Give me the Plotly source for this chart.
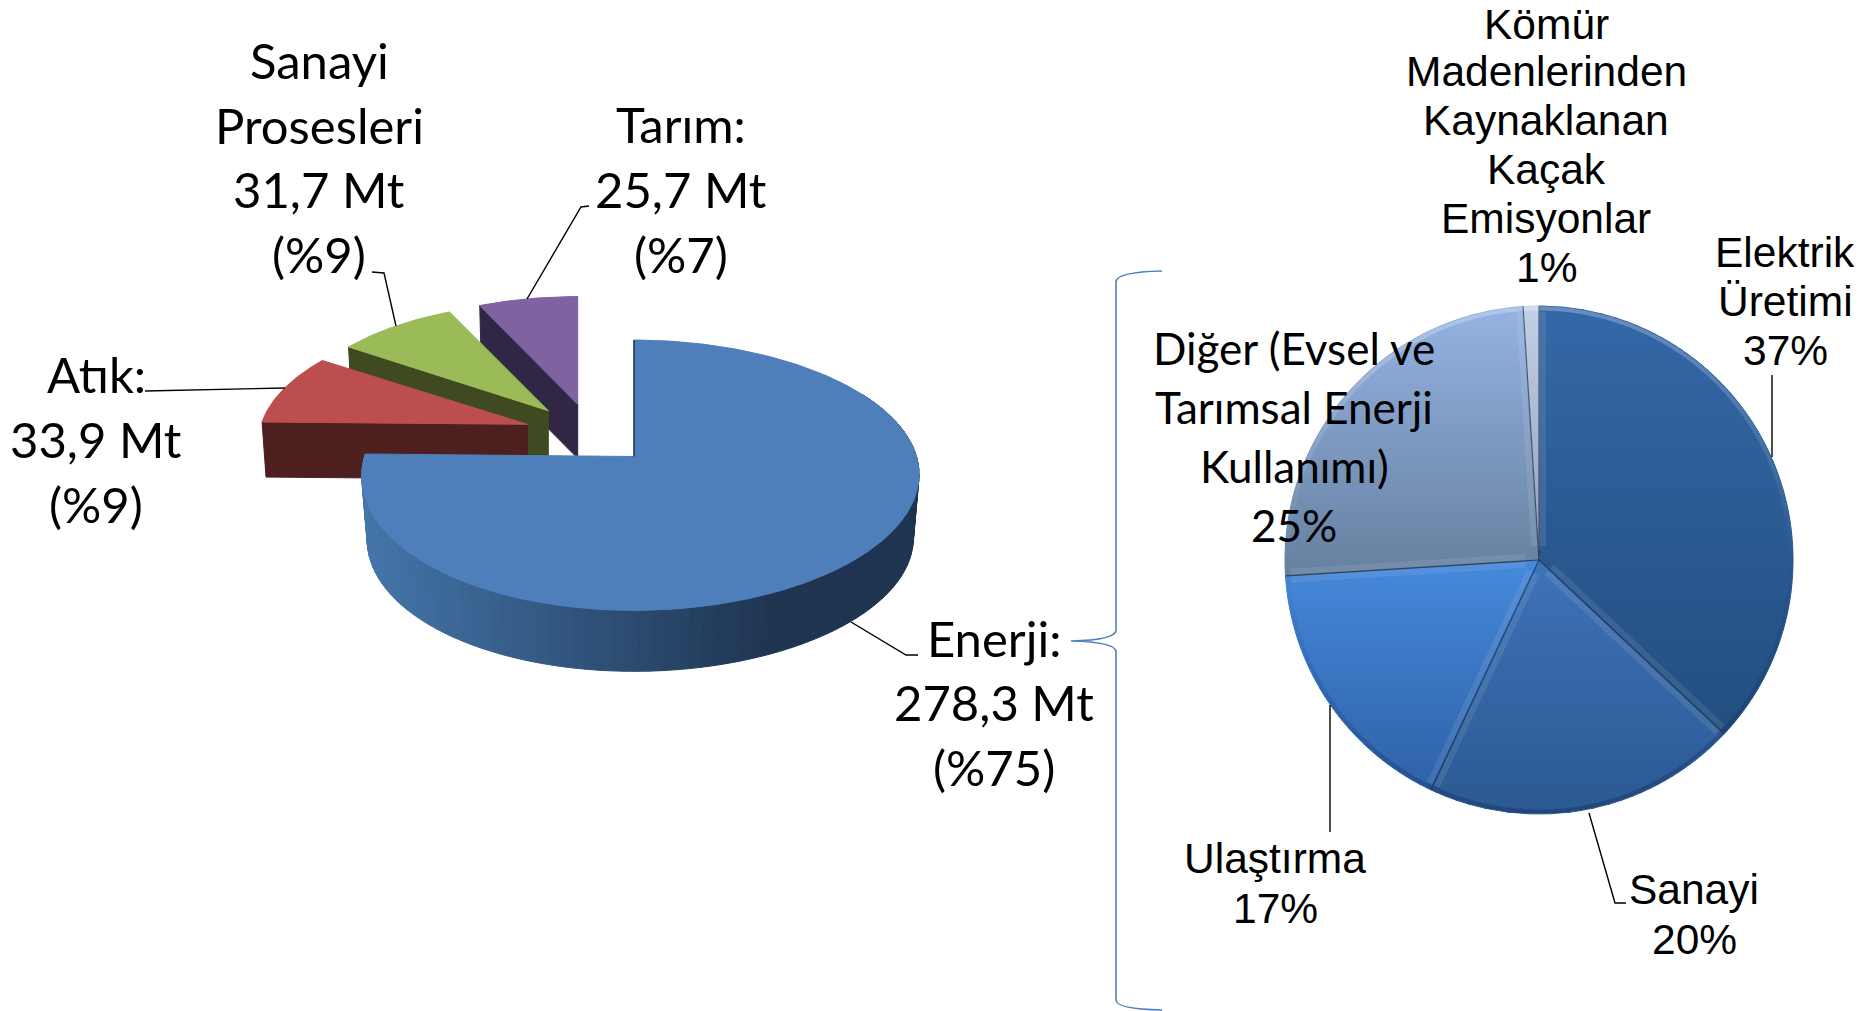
import math
import plotly.graph_objects as go

# ---------- data ----------
sector_names = ["Enerji", "Atık", "Sanayi Prosesleri", "Tarım"]
sector_mt = [278.3, 33.9, 31.7, 25.7]
energy_names = ["Elektrik Üretimi", "Sanayi", "Ulaştırma", "Diğer", "Kömür Kaçak"]
energy_share = [37, 20, 17, 25, 1]

# ---------- styles / layout constants ----------
sector_top = ["#4E7FBB", "#BC4F4D", "#9BBB59", "#7F63A1"]
sector_cut = ["#1F3552", "#4E1F1F", "#3F4A20", "#312644"]
sector_apex = [(634, 456.5), (527.3, 424.3), (548.3, 410.7), (577.7, 404.3)]
sector_scale = [(1.0, 1.0), (0.987, 0.925), (0.962, 0.925), (0.955, 0.925)]
sector_depth = [64, 55, 55, 54]
energy_top = ["#3468A7", "#3F73B8", "#4689DB", "#95B3E3", "#C4D0E6"]
energy_bot = ["#234E80", "#2B5992", "#2F62A8", "#66809F", "#8E9DB8"]
PIE_B, PIE_A, PIE_K, PIE_SHIFT = 276, 132.6, 0.1385, 6.5
PIE2_C, PIE2_R = (1539, 560), 254

fig = go.Figure()


def hex2rgb(h):
    return tuple(int(h[i:i + 2], 16) for i in (1, 3, 5))


def lerp(c1, c2, t):
    a, b = hex2rgb(c1), hex2rgb(c2)
    return "rgb(%d,%d,%d)" % tuple(round(a[i] + (b[i] - a[i]) * t) for i in range(3))


def poly(xs, ys, color):
    fig.add_trace(go.Scatter(x=list(xs), y=list(ys), mode="lines", fill="toself", fillcolor=color,
                             line=dict(color=color, width=1), hoverinfo="skip", showlegend=False))


def stroke(xs, ys, color="#000000", width=1.5):
    fig.add_trace(go.Scatter(x=list(xs), y=list(ys), mode="lines", line=dict(color=color, width=width),
                             hoverinfo="skip", showlegend=False))


def project(deg, apex, scale, r=1.0, zoom=1.0, dy=0.0):
    t = math.radians(deg)
    u, v = r * math.sin(t), r * math.cos(t)
    w = 1 + PIE_K * v
    x = apex[0] + zoom * scale[0] * (PIE_B * u / w + PIE_SHIFT * u * u)
    y = apex[1] + dy - zoom * scale[1] * PIE_A * v / w
    return x, y


# ---------- left exploded 3D pie ----------
total = sum(sector_mt)
angles = [0]
for val in sector_mt:
    angles.append(angles[-1] + val / total * 360)

# back-to-front: Tarım, Sanayi, Atık, Enerji
for i in [3, 2, 1]:
    a0, a1 = angles[i], angles[i + 1]
    apex, sc, d = sector_apex[i], sector_scale[i], sector_depth[i]
    p0 = project(a0, apex, sc)
    b0 = project(a0, apex, sc, zoom=0.985, dy=d)
    bc = (apex[0], apex[1] + d)
    poly([apex[0], p0[0], b0[0], bc[0], apex[0]], [apex[1], p0[1], b0[1], bc[1], apex[1]], sector_cut[i])
    n = 40
    pts = [project(a0 + (a1 - a0) * j / n, apex, sc) for j in range(n + 1)]
    poly([apex[0]] + [p[0] for p in pts] + [apex[0]], [apex[1]] + [p[1] for p in pts] + [apex[1]], sector_top[i])

# Enerji: front wall with horizontal gradient
a0, a1 = angles[0], angles[1]
apex, sc, d = sector_apex[0], sector_scale[0], sector_depth[0]
n = 90
x_left, x_right = apex[0] - 272, apex[0] + 285
for j in range(n):
    t0 = a0 + 60 + (a1 - a0 - 60) * j / n
    t1 = a0 + 60 + (a1 - a0 - 60) * (j + 1) / n
    p0, p1 = project(t0, apex, sc), project(t1, apex, sc)
    b0, b1 = project(t0, apex, sc, zoom=0.98, dy=d), project(t1, apex, sc, zoom=0.98, dy=d)
    f = ((p0[0] + p1[0]) / 2 - x_left) / (x_right - x_left)
    f = min(1.0, f / 0.74)
    col = lerp("#4475AA", "#1E3451", f)
    poly([p0[0], p1[0], b1[0], b0[0], p0[0]], [p0[1], p1[1], b1[1], b0[1], p0[1]], col)
pts = [project(a0 + (a1 - a0) * j / 240, apex, sc) for j in range(241)]
poly([apex[0]] + [p[0] for p in pts] + [apex[0]], [apex[1]] + [p[1] for p in pts] + [apex[1]], sector_top[0])
top_pt = project(a0, apex, sc)
stroke([top_pt[0], apex[0]], [top_pt[1], apex[1]], sector_cut[0], 1.5)


# ---------- right pie with vertical gradients ----------
def clip(points, y_lim, keep_below):
    out = []
    for k, p in enumerate(points):
        q = points[(k + 1) % len(points)]
        in_p = p[1] >= y_lim if keep_below else p[1] <= y_lim
        in_q = q[1] >= y_lim if keep_below else q[1] <= y_lim
        if in_p:
            out.append(p)
        if in_p != in_q:
            s = (y_lim - p[1]) / (q[1] - p[1])
            out.append((p[0] + (q[0] - p[0]) * s, y_lim))
    return out


def polar(deg, r):
    t = math.radians(deg)
    return PIE2_C[0] + r * math.sin(t), PIE2_C[1] - r * math.cos(t)


share_total = sum(energy_share)
start = 0
bounds = []
for i, val in enumerate(energy_share):
    end = start + val / share_total * 360
    bounds.append((start, end))
    steps = max(4, int((end - start) * 1.5))
    arc = [polar(start + (end - start) * j / steps, PIE2_R) for j in range(steps + 1)]
    sector = [PIE2_C] + arc
    ymin, ymax = min(p[1] for p in sector), max(p[1] for p in sector)
    y = ymin
    while y < ymax:
        band = clip(clip(sector, y, True), min(y + 4, ymax), False)
        if len(band) > 2:
            col = lerp(energy_top[i], energy_bot[i], (y + 2 - ymin) / (ymax - ymin))
            poly([p[0] for p in band] + [band[0][0]], [p[1] for p in band] + [band[0][1]], col)
        y += 4
    start = end

# bevel highlights: soft strips running parallel to each radial edge
for a0, a1 in bounds:
    if a1 - a0 > 10:
        for edge, side in ((a0, 1), (a1, -1)):
            t = math.radians(edge)
            nx, ny = side * math.cos(t) * 4, side * math.sin(t) * 4
            p, q = polar(edge, PIE2_R - 6), polar(edge, 14)
            stroke([p[0] + nx, q[0] + nx], [p[1] + ny, q[1] + ny], "rgba(255,255,255,0.09)", 6)
    steps = max(3, int(a1 - a0))
    arc = [polar(a0 + (a1 - a0) * j / steps, PIE2_R - 2.5) for j in range(steps + 1)]
    for j in range(steps):
        mid = (a0 + (a1 - a0) * (j + 0.5) / steps) % 360
        up = math.cos(math.radians(mid))
        col = "rgba(255,255,255,%.2f)" % (0.26 * up) if up > 0 else "rgba(0,0,30,%.2f)" % (-0.2 * up)
        stroke([arc[j][0], arc[j + 1][0]], [arc[j][1], arc[j + 1][1]], col, 4)
for a0, a1 in bounds:
    p = polar(a0, PIE2_R)
    stroke([PIE2_C[0], p[0]], [PIE2_C[1], p[1]], "rgba(20,35,60,0.65)", 1.2)

# ---------- leader lines ----------
leaders = [
    ([145, 285], [391, 388]),
    ([372, 384, 396], [272, 273, 326]),
    ([589, 581, 527], [206, 207, 299]),
    ([851, 906, 918], [622, 655, 655]),
    ([1772, 1772], [375, 457]),
    ([1589, 1615, 1626], [813, 903, 903]),
    ([1330, 1330], [705, 832]),
]
for xs, ys in leaders:
    stroke(xs, ys, "#000000", 1.4)

# ---------- brace ----------
brace = ("M 1162 271 Q 1116 272 1116 282 L 1116 630 Q 1116 640 1071 641 "
         "Q 1116 642 1116 652 L 1116 1000 Q 1116 1009 1162 1010")
shapes = [dict(type="path", xref="x", yref="y", path=brace, line=dict(color="#4F81BD", width=1.6))]

# ---------- labels ----------
LEFT_FONT, RIGHT_FONT = "Lato", "Liberation Sans"
labels = [
    (["Sanayi", "Prosesleri", "31,7 Mt", "(%9)"], 319, [60, 125, 189, 254], LEFT_FONT, 49),
    (["Tarım:", "25,7 Mt", "(%7)"], 680.5, [124, 189, 254], LEFT_FONT, 49),
    (["Atık:", "33,9 Mt", "(%9)"], 96, [374, 439, 504], LEFT_FONT, 49),
    (["Enerji:", "278,3 Mt", "(%75)"], 994, [638, 702, 767], LEFT_FONT, 49),
    (["Kömür", "Madenlerinden", "Kaynaklanan", "Kaçak", "Emisyonlar", "1%"], 1546,
     [24, 71, 120, 169, 218, 267], RIGHT_FONT, 42.5),
    (["Elektrik", "Üretimi", "37%"], 1785, [252, 301, 350], RIGHT_FONT, 42.5),
    (["Diğer (Evsel ve", "Tarımsal Enerji", "Kullanımı)", "25%"], 1294, [348, 407, 466, 525], LEFT_FONT, 44),
    (["Ulaştırma", "17%"], 1275, [858, 908], RIGHT_FONT, 42.5),
    (["Sanayi", "20%"], 1694, [889, 939], RIGHT_FONT, 42.5),
]
annotations = []
for lines, cx, ys, family, size in labels:
    for line, y in zip(lines, ys):
        annotations.append(dict(x=cx, y=y, xref="x", yref="y", text=line, showarrow=False,
                                xanchor="center", yanchor="middle",
                                font=dict(family=family, size=size, color="#000000")))

fig.update_layout(
    width=1859, height=1011, margin=dict(l=0, r=0, t=0, b=0),
    paper_bgcolor="#FFFFFF", plot_bgcolor="#FFFFFF", showlegend=False,
    xaxis=dict(range=[0, 1859], visible=False, fixedrange=True),
    yaxis=dict(range=[1011, 0], visible=False, fixedrange=True),
    shapes=shapes, annotations=annotations,
)
fig.write_html("out.html", config={"displayModeBar": False},
               post_script="document.body.style.margin='0';document.body.style.overflow='hidden';")
